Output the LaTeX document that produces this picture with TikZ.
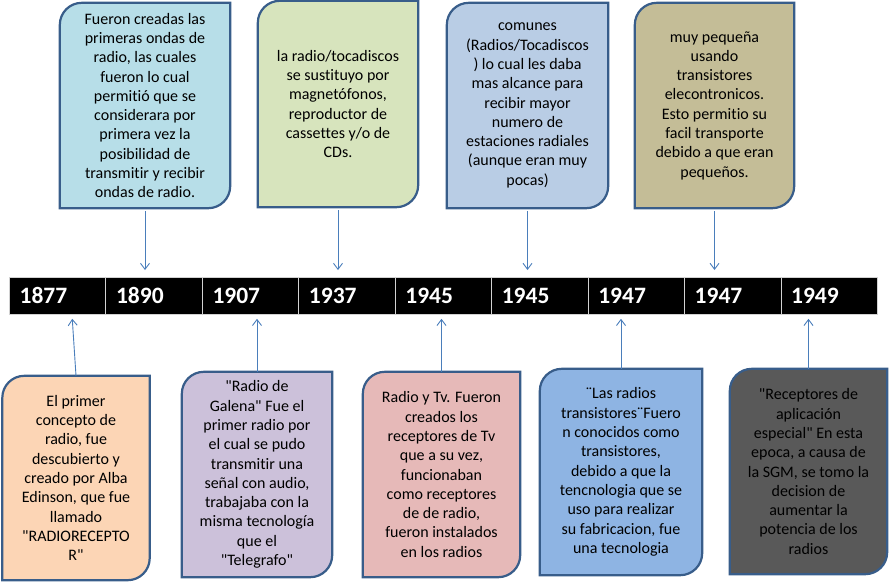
\documentclass[tikz,border=0pt]{standalone}
\usepackage{fontspec}
\setmainfont{Carlito}[RawFeature=-liga]
\usetikzlibrary{arrows.meta,backgrounds}
\definecolor{edgeblue}{HTML}{385D8A}
\definecolor{arrowblue}{HTML}{4A7EBB}
\definecolor{fillone}{HTML}{B7DEE8}
\definecolor{filltwo}{HTML}{D7E4BD}
\definecolor{fillthree}{HTML}{B9CDE5}
\definecolor{fillfour}{HTML}{C4BD97}
\definecolor{fillfive}{HTML}{FCD5B5}
\definecolor{fillsix}{HTML}{CCC1DA}
\definecolor{fillseven}{HTML}{E6B9B8}
\definecolor{filleight}{HTML}{8EB4E3}
\definecolor{fillnine}{HTML}{595959}
\tikzset{
  yearbox/.style={anchor=north west, fill=black, draw=gray!35, line width=0.8pt,
    minimum width=96.44pt, minimum height=37pt, inner sep=0pt, text=white,
    text width=76pt, align=left, font=\bfseries\fontsize{23.5}{25}\selectfont},
  evbox/.style={inner sep=0pt, align=center, font=\fontsize{16}{19.3}\selectfont},
  boxline/.style={draw=edgeblue, line width=2.2pt},
  conn/.style={draw=arrowblue, line width=0.9pt, -{Straight Barb[length=6pt,width=9pt]}}
}
\begin{document}
\begin{tikzpicture}[x=1pt,y=-1pt]
  \useasboundingbox (0,0) rectangle (889,582);
  % timeline
  \foreach \yr [count=\i] in {1877,1890,1907,1937,1945,1945,1947,1947,1949}
    \node[yearbox] (y\i) at ({9+96.44*(\i-1)},277) {\yr};
  % events above
  \node[evbox, minimum width=170pt, minimum height=205pt] (b1) at (145,105.5)
    {Fueron creadas las\\ primeras ondas de\\ radio, las cuales\\ fueron lo cual\\ permitió que se\\ considerara por\\ primera vez la\\ posibilidad de\\ transmitir y recibir\\ ondas de radio.};
  \node[evbox, minimum width=160pt, minimum height=206pt] (b2) at (338,104)
    {la radio/tocadiscos\\ se sustituyo por\\ magnetófonos,\\ reproductor de\\ cassettes y/o de\\ CDs.};
  \node[evbox, minimum width=161pt, minimum height=205pt] (b3) at (527.5,105.5)
    {comunes\\ (Radios/Tocadiscos\\ ) lo cual les daba\\ mas alcance para\\ recibir mayor\\ numero de\\ estaciones radiales\\ (aunque eran muy\\ pocas)};
  \node[evbox, minimum width=159pt, minimum height=205pt] (b4) at (714.5,105.5)
    {muy pequeña\\ usando\\ transistores\\ elecontronicos.\\ Esto permitio su\\ facil transporte\\ debido a que eran\\ pequeños.};
  % events below
  \node[evbox, minimum width=147pt, minimum height=204pt] (b5) at (76,478)
    {El primer\\ concepto de\\ radio, fue\\ descubierto y\\ creado por Alba\\ Edinson, que fue\\ llamado\\ \textquotedbl RADIORECEPTO\\ R\textquotedbl};
  \node[evbox, minimum width=150pt, minimum height=205pt] (b6) at (257,474.5)
    {\textquotedbl Radio de\\ Galena\textquotedbl\ Fue el\\ primer radio por\\ el cual se pudo\\ transmitir una\\ señal con audio,\\ trabajaba con la\\ misma tecnología\\ que el\\ \textquotedbl Telegrafo\textquotedbl};
  \node[evbox, minimum width=157pt, minimum height=205pt] (b7) at (441.5,474.5)
    {Radio y Tv. Fueron\\ creados los\\ receptores de Tv\\ que a su vez,\\ funcionaban\\ como receptores\\ de de radio,\\ fueron instalados\\ en los radios};
  \node[evbox, minimum width=162pt, minimum height=206pt] (b8) at (621,472)
    {¨Las radios\\ transistores¨Fuero\\ n conocidos como\\ transistores,\\ debido a que la\\ tencnologia que se\\ uso para realizar\\ su fabricacion, fue\\ una tecnologia};
  \node[evbox, minimum width=157pt, minimum height=205pt] (b9) at (808.5,471.5)
    {\textquotedbl Receptores de\\ aplicación\\ especial\textquotedbl\ En esta\\ epoca, a causa de\\ la SGM, se tomo la\\ decision de\\ aumentar la\\ potencia de los\\ radios};
  \begin{scope}[on background layer]
    \foreach \b/\c in {b1/fillone,b2/filltwo,b3/fillthree,b4/fillfour,b5/fillfive,
                       b6/fillsix,b7/fillseven,b8/filleight,b9/fillnine}
      \draw[boxline, fill=\c] (\b.south west) -- ([yshift=-22pt]\b.north west)
        arc[start angle=180, end angle=90, radius=22pt] -- (\b.north east)
        -- ([yshift=22pt]\b.south east)
        arc[start angle=0, end angle=-90, radius=22pt] -- cycle;
  \end{scope}
  \begin{scope}[conn, shorten <=3pt, shorten >=7pt]
    \draw (b1.south) -- (b1.south |- y2.north);
    \draw (b2.south) -- (b2.south |- y4.north);
    \draw (b3.south) -- (b3.south |- y6.north);
    \draw (b4.south) -- (b4.south |- y8.north);
  \end{scope}
  \begin{scope}[conn, shorten >=4pt]
    \draw (b5.north) -- ([xshift=-4pt]b5.north |- y1.south);
    \draw (b6.north) -- (b6.north |- y3.south);
    \draw (b7.north) -- (b7.north |- y5.south);
    \draw (b8.north) -- (b8.north |- y7.south);
    \draw (b9.north) -- (b9.north |- y9.south);
  \end{scope}
\end{tikzpicture}
\end{document}
